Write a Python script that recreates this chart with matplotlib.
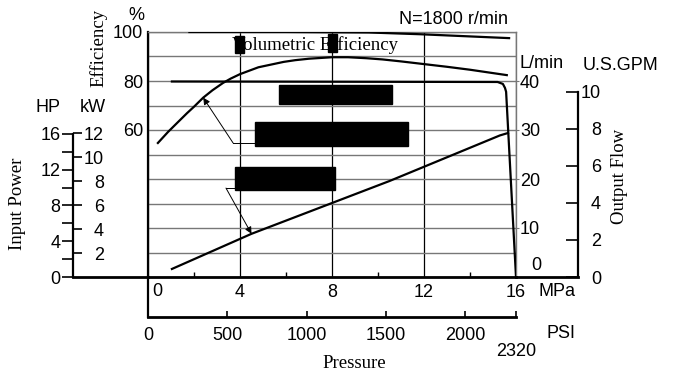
import matplotlib
matplotlib.use("Agg")
import matplotlib.pyplot as plt
from matplotlib.patches import Rectangle

plt.rcParams['font.family'] = ['Liberation Sans', 'DejaVu Sans']
plt.rcParams['font.size'] = 13
SERIF = ['Liberation Serif', 'DejaVu Serif']

W, H = 673, 374          # figure size in pixels
MPA_TO_PSI = 145.038
KW_PER_HP = 0.7457
LPM_PER_GPM = 3.7854

# --- pump curves at N=1800 r/min, x = discharge pressure (MPa) ---
vol_mpa = [1.8, 6.0, 9.6, 11.8, 15.7]
vol_eff = [100.0, 100.0, 99.8, 99.1, 97.5]

tot_mpa = [0.43, 0.87, 1.3, 1.7, 2.0, 2.4, 2.8, 3.26, 3.6, 4.0, 4.8, 5.9, 6.4, 7.0,
           8.0, 8.7, 9.5, 10.2, 11.0, 12.0, 13.0, 14.0, 15.6]
tot_eff = [54.7, 59.2, 63.2, 66.9, 69.5, 73.2, 76.2, 79.2, 81.0, 82.8, 85.6, 87.8, 88.5, 89.1,
           89.7, 89.7, 89.3, 88.8, 88.0, 86.9, 85.8, 84.6, 82.4]

flow_mpa = [1.04, 15.2, 15.43, 15.52, 15.57, 16.0]
flow_lpm = [39.9, 39.8, 39.4, 38.6, 37.8, 0.0]

power_mpa = [1.04, 4.5, 10.5, 15.3, 15.65]
power_kw = [0.67, 3.6, 8.0, 11.8, 12.0]

# --- scales ---
eff_top = 100.0
lpm_top = 50.0
kw_top = 20.42

eff_ticks = [60, 80, 100]
mpa_ticks = [0, 4, 8, 12, 16]
mpa_minor = [2, 6, 10, 14]
psi_ticks = [0, 500, 1000, 1500, 2000, 2320]
psi_labels = ['0', '500', '1000', '1500', '2000', '']
lpm_ticks = [10, 20, 30, 40]
gpm_ticks = [0, 2, 4, 6, 8, 10]
hp_ticks = [0, 4, 8, 12, 16]
hp_minor = [2, 6, 10, 14]
kw_ticks = [2, 4, 6, 8, 10, 12]

# blacked-out label boxes (MPa, %, width, height)
black_boxes = [(5.7, 70.6, 4.9, 7.8), (4.65, 53.5, 6.65, 9.8), (3.78, 35.5, 4.35, 9.4),
               (3.78, 91.4, 0.39, 7.0), (7.83, 91.8, 0.39, 7.3)]


def fx(px):
    return px / W


def fy(py):
    return 1 - py / H


fig = plt.figure(figsize=(W / 100, H / 100), dpi=100)

# main efficiency axes
ax = fig.add_axes([fx(148), fy(277), 368 / W, 245 / H])
ax.set_xlim(0, 16)
ax.set_ylim(0, eff_top)
ax.set_yticks(eff_ticks)
ax.set_yticks(range(0, 101, 10), minor=True)
ax.set_xticks(mpa_ticks, ['', '4', '8', '12', '16'])
ax.set_xticks(mpa_minor, minor=True)
ax.tick_params(axis='y', which='both', length=0, pad=3.6)
ax.tick_params(axis='x', which='major', length=0, pad=5)
ax.tick_params(axis='x', which='minor', direction='in', length=3.6, width=1)
ax.grid(axis='y', which='both', color='#777777', lw=1)
ax.grid(axis='x', which='major', color='black', lw=0.9)
ax.spines['left'].set_linewidth(1.6)
ax.spines['bottom'].set_linewidth(2)
ax.spines['top'].set_color('#777777')
ax.spines['right'].set_color('#777777')
ax.spines['top'].set_linewidth(1)
ax.spines['right'].set_linewidth(1)

ax.plot(vol_mpa, vol_eff, color='black', lw=1.6, zorder=3)
ax.plot(tot_mpa, tot_eff, color='black', lw=1.6, zorder=3)
ax.text(7.26, 94.7, 'Volumetric Efficiency', family=SERIF, fontsize=13.5,
        ha='center', va='center', zorder=3)

for x0, y0, w, h in black_boxes:
    ax.add_patch(Rectangle((x0, y0), w, h, color='black', zorder=6))

# flow (L/min) on the right of the plotting area
ax_flow = ax.twinx()
ax_flow.set_ylim(0, lpm_top)
for s in ax_flow.spines.values():
    s.set_visible(False)
ax_flow.set_yticks(lpm_ticks)
ax_flow.tick_params(axis='y', direction='out', length=2, color='#777777', pad=15.3)
plt.setp(ax_flow.get_yticklabels(), ha='right')
ax_flow.plot(flow_mpa, flow_lpm, color='black', lw=1.6)

# input power (kW) drawn into the same area
ax_kw = ax.twinx()
ax_kw.set_ylim(0, kw_top)
ax_kw.axis('off')
ax_kw.plot(power_mpa, power_kw, color='black', lw=1.6)

# leader lines from the boxes
ax.plot([3.70, 4.65], [54.7, 54.7], color='black', lw=0.7, zorder=4)
ax.annotate('', xy=(tot_mpa[5], tot_eff[5]), xytext=(3.70, 54.7),
            arrowprops=dict(arrowstyle='-|>', color='black', lw=0.7,
                            mutation_scale=10, shrinkA=0, shrinkB=0), zorder=4)
ax.plot([3.39, 3.78], [36.3, 36.3], color='black', lw=0.7, zorder=4)
ax_kw.annotate('', xy=(power_mpa[1], power_kw[1]), xytext=(3.39, 36.3),
               textcoords=ax.transData,
               arrowprops=dict(arrowstyle='-|>', color='black', lw=0.7,
                               mutation_scale=10, shrinkA=0, shrinkB=0))

# input power scale: HP on the left, kW on the right of the same spine
ax_hp = fig.add_axes([fx(73), fy(277), 75 / W, 245 / H])
ax_hp.patch.set_visible(False)
ax_hp.set_ylim(0, kw_top / KW_PER_HP)
ax_hp.set_xlim(0, 1)
ax_hp.spines['top'].set_visible(False)
ax_hp.spines['right'].set_visible(False)
ax_hp.spines['left'].set_bounds(0, 16)
ax_hp.spines['left'].set_linewidth(1.6)
ax_hp.spines['bottom'].set_linewidth(2)
ax_hp.set_xticks([])
ax_hp.set_yticks(hp_ticks)
ax_hp.set_yticks(hp_minor, minor=True)
ax_hp.tick_params(axis='y', which='both', direction='out', length=8, width=1.2, pad=1)

ax_kws = fig.add_axes([fx(73), fy(277), 0.0001, 245 / H])
ax_kws.patch.set_visible(False)
ax_kws.set_ylim(0, kw_top)
for s in ax_kws.spines.values():
    s.set_visible(False)
ax_kws.set_xticks([])
ax_kws.yaxis.tick_right()
ax_kws.set_yticks(kw_ticks)
ax_kws.tick_params(axis='y', direction='out', length=6.5, width=1.2, pad=15.8)
plt.setp(ax_kws.get_yticklabels(), ha='right')

# output flow in U.S. GPM
ax_gpm = fig.add_axes([fx(516), fy(277), 62 / W, 245 / H])
ax_gpm.patch.set_visible(False)
ax_gpm.set_ylim(0, lpm_top / LPM_PER_GPM)
ax_gpm.set_xlim(0, 1)
ax_gpm.spines['top'].set_visible(False)
ax_gpm.spines['left'].set_visible(False)
ax_gpm.spines['right'].set_bounds(0, 10)
ax_gpm.spines['right'].set_linewidth(1.6)
ax_gpm.spines['bottom'].set_linewidth(2)
ax_gpm.set_xticks([])
ax_gpm.yaxis.tick_right()
ax_gpm.set_yticks(gpm_ticks)
ax_gpm.tick_params(axis='y', direction='in', length=9, width=1.2, pad=16.6)
plt.setp(ax_gpm.get_yticklabels(), ha='right')

# pressure in PSI below
ax_psi = fig.add_axes([fx(148), fy(317), 368 / W, 40 / H])
ax_psi.patch.set_visible(False)
ax_psi.set_xlim(0, 16 * MPA_TO_PSI)
ax_psi.spines['top'].set_visible(False)
ax_psi.spines['right'].set_visible(False)
ax_psi.spines['left'].set_linewidth(1.6)
ax_psi.spines['bottom'].set_linewidth(2)
ax_psi.set_yticks([])
ax_psi.set_xticks(psi_ticks, psi_labels)
ax_psi.tick_params(axis='x', direction='in', length=4.3, width=1.2, pad=7)

# free labels
fig.text(fx(136), fy(15), '%', ha='center', va='center')
fig.text(fx(99), fy(48), 'Efficiency', family=SERIF, fontsize=13.5, rotation=90,
         ha='center', va='center')
fig.text(fx(453), fy(19), 'N=1800 r/min', ha='center', va='center')
fig.text(fx(48), fy(107), 'HP', ha='center', va='center')
fig.text(fx(93), fy(107), 'kW', ha='center', va='center')
fig.text(fx(18), fy(204), 'Input Power', family=SERIF, fontsize=13.5, rotation=90,
         ha='center', va='center')
fig.text(fx(542), fy(63), 'L/min', ha='center', va='center')
fig.text(fx(620), fy(65), 'U.S.GPM', ha='center', va='center')
fig.text(fx(619), fy(176), 'Output Flow', family=SERIF, fontsize=13.5, rotation=90,
         ha='center', va='center')
fig.text(fx(541), fy(266), '0', ha='right', va='center')
fig.text(fx(157), fy(292), '0', ha='center', va='center')
fig.text(fx(557), fy(292), 'MPa', ha='center', va='center')
fig.text(fx(561), fy(333), 'PSI', ha='center', va='center')
fig.text(fx(516), fy(352), '2320', ha='center', va='center')
fig.text(fx(354), fy(363), 'Pressure', family=SERIF, fontsize=13.5,
         ha='center', va='center')

fig.savefig('out.png', dpi=100)
